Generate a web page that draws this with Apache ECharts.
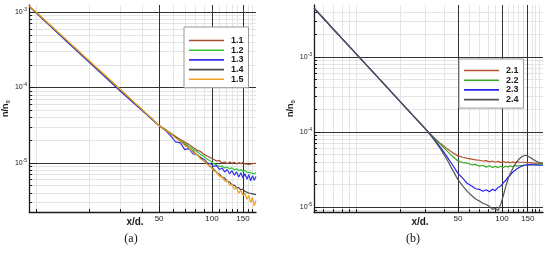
<!DOCTYPE html>
<html>
<head>
<meta charset="utf-8">
<script src="https://cdn.jsdelivr.net/npm/echarts@6/dist/echarts.min.js"></script>
<style>
html, body { margin: 0; padding: 0; background: #fff; }
#chart { width: 550px; height: 254px; }
</style>
</head>
<body>
<div id="chart"></div>
<script>
// panel (a): x/d positions and n/n0 values
const xA = [9.1, 10, 12, 15, 20, 25, 30, 35, 40, 45, 50, 54, 58, 62, 66, 70, 74, 78, 82, 86, 90, 94, 98,
  102, 106, 110, 114, 118, 122, 126, 130, 134, 138, 142, 146, 150, 154, 158, 162, 166, 170, 174, 178];
const a11 = [1.2e-3, 9.8e-4, 6.64e-4, 4.12e-4, 2.22e-4, 1.38e-4, 9.33e-5, 6.71e-5, 5.05e-5, 3.93e-5, 3.13e-5,
  2.8e-5, 2.5e-5, 2.25e-5, 2.05e-5, 1.9e-5, 1.75e-5, 1.6e-5, 1.48e-5, 1.42e-5, 1.3e-5, 1.24e-5, 1.17e-5,
  1.12e-5, 1.06e-5, 1.08e-5, 1.0e-5, 1.04e-5, 9.8e-6, 1.03e-5, 9.9e-6, 1.02e-5, 9.7e-6, 1.01e-5, 9.8e-6,
  1.02e-5, 9.7e-6, 1.0e-5, 9.6e-6, 1.01e-5, 9.8e-6, 1.0e-5, 9.9e-6];
const a12 = [1.2e-3, 9.8e-4, 6.64e-4, 4.12e-4, 2.22e-4, 1.38e-4, 9.33e-5, 6.71e-5, 5.05e-5, 3.93e-5, 3.13e-5,
  2.78e-5, 2.47e-5, 2.2e-5, 1.98e-5, 1.8e-5, 1.65e-5, 1.52e-5, 1.42e-5, 1.3e-5, 1.22e-5, 1.12e-5, 1.06e-5,
  9.8e-6, 9.5e-6, 9.0e-6, 9.1e-6, 8.6e-6, 8.8e-6, 8.4e-6, 8.6e-6, 8.1e-6, 8.4e-6, 7.9e-6, 8.2e-6,
  7.7e-6, 8.0e-6, 7.5e-6, 7.8e-6, 7.4e-6, 7.7e-6, 7.2e-6, 7.5e-6];
const a13 = [1.2e-3, 9.7e-4, 6.5e-4, 4.0e-4, 2.15e-4, 1.33e-4, 9.0e-5, 6.5e-5, 4.95e-5, 3.88e-5, 3.12e-5,
  2.72e-5, 2.3e-5, 1.9e-5, 1.85e-5, 1.5e-5, 1.55e-5, 1.32e-5, 1.3e-5, 1.18e-5, 1.12e-5, 1.0e-5, 9.8e-6,
  9.0e-6, 9.2e-6, 8.2e-6, 8.6e-6, 7.6e-6, 8.2e-6, 7.2e-6, 7.9e-6, 6.9e-6, 7.6e-6, 6.5e-6, 7.4e-6,
  6.3e-6, 7.2e-6, 6.1e-6, 7.0e-6, 5.8e-6, 6.8e-6, 5.9e-6, 6.6e-6];
const a14 = [1.2e-3, 9.8e-4, 6.64e-4, 4.12e-4, 2.22e-4, 1.38e-4, 9.33e-5, 6.71e-5, 5.05e-5, 3.93e-5, 3.13e-5,
  2.76e-5, 2.44e-5, 2.2e-5, 1.94e-5, 1.76e-5, 1.56e-5, 1.43e-5, 1.28e-5, 1.18e-5, 1.06e-5, 9.9e-6, 8.9e-6,
  8.3e-6, 7.5e-6, 7.1e-6, 6.5e-6, 6.3e-6, 5.7e-6, 5.6e-6, 5.1e-6, 5.1e-6, 4.7e-6, 4.7e-6, 4.4e-6,
  4.5e-6, 4.2e-6, 4.3e-6, 4.0e-6, 4.1e-6, 3.9e-6, 4.0e-6, 3.8e-6];
const a15 = [1.21e-3, 9.9e-4, 6.7e-4, 4.18e-4, 2.26e-4, 1.41e-4, 9.5e-5, 6.8e-5, 5.1e-5, 3.96e-5, 3.14e-5,
  2.74e-5, 2.45e-5, 2.15e-5, 1.96e-5, 1.7e-5, 1.58e-5, 1.38e-5, 1.3e-5, 1.13e-5, 1.08e-5, 9.5e-6, 9.1e-6,
  7.9e-6, 7.6e-6, 6.7e-6, 6.6e-6, 5.8e-6, 5.8e-6, 5.1e-6, 5.2e-6, 4.5e-6, 4.7e-6, 4.0e-6, 4.3e-6,
  3.7e-6, 4.0e-6, 3.3e-6, 3.7e-6, 3.0e-6, 3.5e-6, 2.7e-6, 3.2e-6];

// panel (b)
const xB = [5.16, 6, 8, 10, 13, 16, 20, 25, 30, 34, 38, 42, 46, 50, 54, 58, 62, 66, 70, 74, 78, 82, 86, 90,
  94, 98, 102, 106, 110, 114, 118, 122, 126, 130, 134, 138, 142, 146, 150, 154, 158, 162, 166, 170, 174,
  178, 182, 186, 191];
const b21 = [4.47e-3, 3.26e-3, 1.77e-3, 1.11e-3, 6.37e-4, 4.11e-4, 2.56e-4, 1.6e-4, 1.09e-4,
  8.5e-5, 7.0e-5, 6.0e-5, 5.3e-5, 4.8e-5, 4.6e-5, 4.45e-5, 4.35e-5, 4.25e-5, 4.2e-5,
  4.1e-5, 4.15e-5, 4.0e-5, 4.1e-5, 3.95e-5, 4.05e-5, 3.9e-5, 4.05e-5, 3.9e-5, 4.0e-5,
  3.85e-5, 4.0e-5, 3.9e-5, 4.0e-5, 3.85e-5, 3.95e-5, 3.85e-5, 3.95e-5, 3.85e-5, 3.9e-5,
  3.8e-5, 3.9e-5, 3.75e-5, 3.85e-5, 3.75e-5, 3.85e-5, 3.7e-5, 3.85e-5, 3.75e-5, 3.8e-5];
const b22 = [4.47e-3, 3.26e-3, 1.77e-3, 1.11e-3, 6.37e-4, 4.11e-4, 2.56e-4, 1.6e-4, 1.09e-4,
  8.4e-5, 6.8e-5, 5.6e-5, 4.7e-5, 4.1e-5, 3.9e-5, 3.85e-5, 3.65e-5, 3.7e-5, 3.5e-5,
  3.6e-5, 3.4e-5, 3.55e-5, 3.35e-5, 3.5e-5, 3.35e-5, 3.5e-5, 3.35e-5, 3.5e-5, 3.4e-5,
  3.55e-5, 3.45e-5, 3.6e-5, 3.5e-5, 3.65e-5, 3.55e-5, 3.7e-5, 3.6e-5, 3.75e-5, 3.65e-5,
  3.8e-5, 3.65e-5, 3.85e-5, 3.7e-5, 3.85e-5, 3.7e-5, 3.9e-5, 3.7e-5, 3.85e-5, 3.75e-5];
const b23 = [4.47e-3, 3.26e-3, 1.77e-3, 1.11e-3, 6.37e-4, 4.11e-4, 2.56e-4, 1.6e-4, 1.09e-4,
  8.2e-5, 6.2e-5, 4.7e-5, 3.6e-5, 2.8e-5, 2.4e-5, 2.05e-5, 1.9e-5, 1.75e-5, 1.72e-5,
  1.62e-5, 1.7e-5, 1.6e-5, 1.72e-5, 1.65e-5, 1.82e-5, 1.9e-5, 2.1e-5, 2.25e-5, 2.5e-5,
  2.65e-5, 2.9e-5, 3.05e-5, 3.2e-5, 3.35e-5, 3.45e-5, 3.55e-5, 3.6e-5, 3.7e-5, 3.65e-5,
  3.75e-5, 3.7e-5, 3.75e-5, 3.65e-5, 3.7e-5, 3.6e-5, 3.7e-5, 3.6e-5, 3.7e-5, 3.6e-5];
const b24 = [4.47e-3, 3.26e-3, 1.77e-3, 1.11e-3, 6.37e-4, 4.11e-4, 2.56e-4, 1.6e-4, 1.09e-4,
  8.0e-5, 5.9e-5, 4.3e-5, 3.1e-5, 2.3e-5, 1.9e-5, 1.6e-5, 1.42e-5, 1.28e-5, 1.2e-5,
  1.12e-5, 1.08e-5, 1.02e-5, 9.3e-6, 9.6e-6, 9.0e-6, 1.08e-5, 1.4e-5, 1.85e-5, 2.35e-5,
  2.8e-5, 3.2e-5, 3.6e-5, 3.95e-5, 4.3e-5, 4.55e-5, 4.75e-5, 4.85e-5, 4.9e-5, 4.8e-5,
  4.65e-5, 4.5e-5, 4.35e-5, 4.2e-5, 4.1e-5, 4.0e-5, 3.95e-5, 3.9e-5, 3.85e-5, 3.85e-5];

// tick values
const xMajor = [50, 100, 150];
const yMajor = [1e-5, 1e-4, 1e-3];
const xMinorA = [10, 20, 30, 40, 60, 70, 80, 90, 110, 120, 130, 140, 160, 170];
const xMinorB = [6, 7, 8, 9, 10, 20, 30, 40, 60, 70, 80, 90, 110, 120, 130, 140, 160, 170, 180];
const mult = [2, 3, 4, 5, 6, 7, 8, 9];
const yMinorA = [].concat(...[1e-6, 1e-5, 1e-4].map(d => mult.map(m => +(m * d).toPrecision(2))));
const yMinorB = [].concat(...[1e-6, 1e-5, 1e-4, 1e-3].map(d => mult.map(m => +(m * d).toPrecision(2))));

const font = 'Liberation Sans, Arial, sans-serif';
const ink = '#1a1a1a';

const majorX = (grid, min, max) => ({
  type: 'log', gridIndex: grid, min, max, z: 2, position: 'bottom',
  axisLine: { show: true, lineStyle: { color: ink, width: 1.3 } },
  axisTick: { show: true, inside: true, length: 6, customValues: xMajor, lineStyle: { color: ink } },
  axisLabel: { customValues: xMajor, fontSize: 8, color: ink, fontFamily: font, margin: 3 },
  splitLine: { show: true, lineStyle: { color: '#333', width: 1 } }
});
const minorX = (grid, min, max, vals) => ({
  type: 'log', gridIndex: grid, min, max, z: 1, position: 'bottom',
  axisLine: { show: false },
  axisTick: { show: true, inside: true, length: 3, customValues: vals, lineStyle: { color: ink } },
  axisLabel: { show: false },
  splitLine: { show: true, lineStyle: { color: '#e4e4e4', width: 1 } }
});
const majorY = (grid, min, max) => ({
  type: 'log', gridIndex: grid, min, max, z: 2, position: 'left',
  name: 'n/n{sub|0}', nameLocation: 'middle', nameRotate: 90, nameGap: 18,
  nameTextStyle: { fontSize: 9, fontWeight: 'bold', color: ink, fontFamily: font,
    rich: { sub: { fontSize: 6, fontWeight: 'bold', color: ink, fontFamily: font, padding: [5, 0, 0, 0] } } },
  axisLine: { show: true, lineStyle: { color: ink, width: 1.3 } },
  axisTick: { show: true, inside: true, length: 6, customValues: yMajor, lineStyle: { color: ink } },
  axisLabel: {
    customValues: yMajor, margin: 2, color: ink, fontFamily: font, fontSize: 7,
    formatter: v => '10{s|' + Math.round(Math.log10(v)) + '}',
    rich: { s: { fontSize: 5, color: ink, fontFamily: font, padding: [0, 0, 5, 0] } }
  },
  splitLine: { show: true, lineStyle: { color: '#333', width: 1 } }
});
const minorY = (grid, min, max, vals) => ({
  type: 'log', gridIndex: grid, min, max, z: 1, position: 'left',
  axisLine: { show: false },
  axisTick: { show: true, inside: true, length: 3, customValues: vals, lineStyle: { color: ink } },
  axisLabel: { show: false },
  splitLine: { show: true, lineStyle: { color: '#e4e4e4', width: 1 } }
});

const line = (name, xs, ys, color, ax) => ({
  name, type: 'line', xAxisIndex: ax, yAxisIndex: ax, symbol: 'none', z: 3,
  data: xs.map((x, i) => [x, ys[i]]),
  lineStyle: { color, width: 1.2 }, itemStyle: { color },
  emphasis: { disabled: true }
});

const legend = (left, top, names, padTop) => ({
  orient: 'vertical', left, top, data: names,
  icon: 'rect', itemWidth: 35, itemHeight: 1.6, itemGap: 0.7,
  padding: [padTop, 5, 4, 5],
  backgroundColor: '#fff', borderColor: '#999', borderWidth: 1, borderRadius: 0,
  textStyle: { fontSize: 9, fontWeight: 'bold', color: ink, fontFamily: font, lineHeight: 9, padding: [0, 0, 0, 2] },
  selectedMode: false
});

const chart = echarts.init(document.getElementById('chart'));
chart.setOption({
  animation: false,
  backgroundColor: '#fff',
  grid: [
    { left: 29, top: 5, width: 227, height: 207 },
    { left: 314, top: 5, width: 229, height: 207 }
  ],
  xAxis: [
    majorX(0, 9.1, 178), majorX(1, 5.16, 191),
    minorX(0, 9.1, 178, xMinorA), minorX(1, 5.16, 191, xMinorB)
  ],
  yAxis: [
    majorY(0, 2.24e-6, 1.24e-3), majorY(1, 8.57e-6, 4.93e-3),
    minorY(0, 2.24e-6, 1.24e-3, yMinorA), minorY(1, 8.57e-6, 4.93e-3, yMinorB)
  ],
  legend: [
    legend(184, 27, ['1.1', '1.2', '1.3', '1.4', '1.5'], 9),
    legend(459, 59, ['2.1', '2.2', '2.3', '2.4'], 7)
  ],
  series: [
    line('1.1', xA, a11, '#a4502e', 0),
    line('1.2', xA, a12, '#2fc53a', 0),
    line('1.3', xA, a13, '#3434f0', 0),
    line('1.4', xA, a14, '#4a4a4a', 0),
    line('1.5', xA, a15, '#f0a01e', 0),
    line('2.1', xB, b21, '#b5532c', 1),
    line('2.2', xB, b22, '#3aab25', 1),
    line('2.3', xB, b23, '#2525ee', 1),
    line('2.4', xB, b24, '#555555', 1)
  ],
  graphic: [
    { type: 'text', style: { text: 'x/d.', x: 135, y: 222, align: 'center', verticalAlign: 'middle', fill: ink, font: 'bold 10px ' + font } },
    { type: 'text', style: { text: 'x/d.', x: 420, y: 222, align: 'center', verticalAlign: 'middle', fill: ink, font: 'bold 10px ' + font } },
    { type: 'text', style: { text: '(a)', x: 131, y: 239, align: 'center', verticalAlign: 'middle', fill: '#111', font: '12px Liberation Serif, serif' } },
    { type: 'text', style: { text: '(b)', x: 413, y: 239, align: 'center', verticalAlign: 'middle', fill: '#111', font: '12px Liberation Serif, serif' } }
  ]
});
</script>
</body>
</html>
